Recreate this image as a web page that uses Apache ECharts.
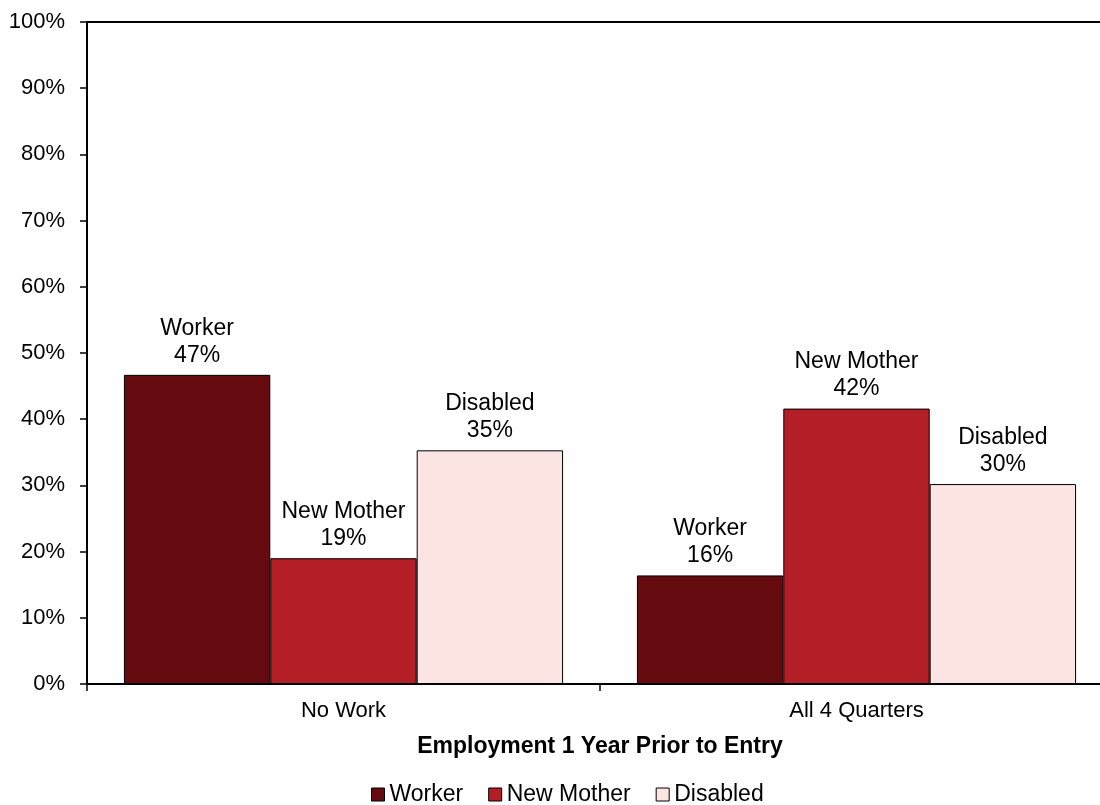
<!DOCTYPE html>
<html>
<head>
<meta charset="utf-8">
<script src="https://cdn.jsdelivr.net/npm/echarts@6/dist/echarts.min.js"></script>
<style>
  html, body { margin: 0; padding: 0; background: #fff; }
  #chart { width: 1100px; height: 805px; }
</style>
</head>
<body>
<div id="chart"></div>
<script>
// Share of entrants by group, split by employment one year before entry
const categories = ['No Work', 'All 4 Quarters'];
const seriesNames = ['Worker', 'New Mother', 'Disabled'];
const worker = [46.7, 16.4];
const newMother = [19.0, 41.6];
const disabled = [35.3, 30.2];
const yTicks = [0, 10, 20, 30, 40, 50, 60, 70, 80, 90, 100];

const colors = ['#650b10', '#b31e27', '#fce4e3'];
const font = 'Liberation Sans, Arial, sans-serif';

const chart = echarts.init(document.getElementById('chart'));

function barSeries(name, data, color) {
  return {
    name: name,
    type: 'bar',
    data: data,
    barGap: '0%',
    barCategoryGap: '14.4%',
    itemStyle: { color: color, borderColor: '#000', borderWidth: 1 },
    label: {
      show: true,
      position: 'top',
      distance: 6,
      color: '#000',
      fontFamily: font,
      fontSize: 23,
      lineHeight: 27,
      formatter: p => p.seriesName + '\n' + Math.round(p.value) + '%'
    }
  };
}

chart.setOption({
  animation: false,
  backgroundColor: '#fff',
  // the plot runs slightly past the right edge of the canvas
  grid: { left: 87, width: 1026, top: 22, bottom: 121, containLabel: false, outerBoundsMode: 'none' },
  legend: {
    data: seriesNames,
    top: 778,
    left: 366,
    itemWidth: 13,
    itemHeight: 13,
    itemGap: 25,
    icon: 'rect',
    textStyle: { fontFamily: font, fontSize: 23, color: '#000' },
    itemStyle: { borderColor: '#000', borderWidth: 1 }
  },
  xAxis: [{
    type: 'category',
    data: categories,
    position: 'bottom',
    axisLine: { lineStyle: { color: '#000', width: 2 } },
    axisTick: { show: true, length: 7, lineStyle: { color: '#000', width: 1.5 } },
    axisLabel: { color: '#000', fontFamily: font, fontSize: 22, margin: 16 },
    name: 'Employment 1 Year Prior to Entry',
    nameLocation: 'middle',
    nameGap: 51,
    nameTextStyle: { color: '#000', fontFamily: font, fontSize: 23, fontWeight: 'bold' }
  }, {
    type: 'category',
    data: categories,
    position: 'top',
    axisLine: { lineStyle: { color: '#000', width: 2 } },
    axisTick: { show: false },
    axisLabel: { show: false }
  }],
  yAxis: {
    type: 'value',
    min: yTicks[0],
    max: yTicks[yTicks.length - 1],
    interval: 10,
    axisLine: { show: true, lineStyle: { color: '#000', width: 2 } },
    axisTick: { show: true, length: 7, lineStyle: { color: '#000', width: 1.5 } },
    splitLine: { show: false },
    axisLabel: { color: '#000', fontFamily: font, fontSize: 22, margin: 22, formatter: '{value}%' }
  },
  series: [
    barSeries(seriesNames[0], worker, colors[0]),
    barSeries(seriesNames[1], newMother, colors[1]),
    barSeries(seriesNames[2], disabled, colors[2])
  ]
});
</script>
</body>
</html>
